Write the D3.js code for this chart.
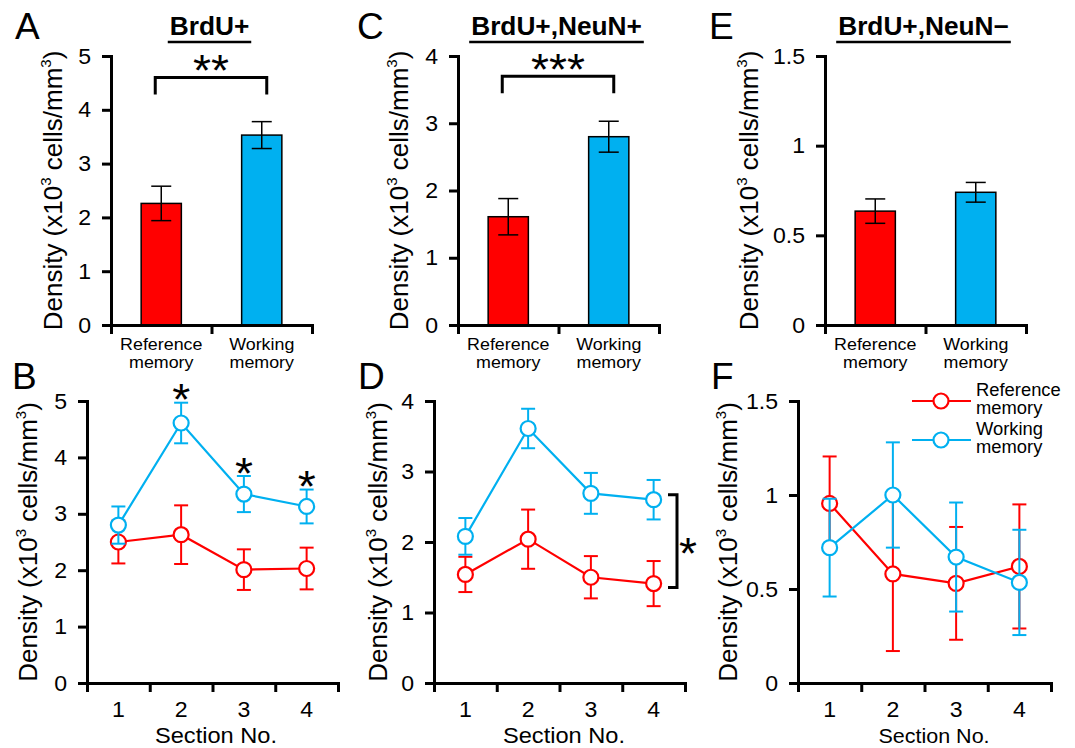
<!DOCTYPE html>
<html>
<head>
<meta charset="utf-8">
<script src="https://cdn.jsdelivr.net/npm/d3@7"></script>
<style>
body{margin:0;background:#fff;}
svg text{font-family:Arial,"Liberation Sans",Helvetica,sans-serif;fill:#000;}
</style>
</head>
<body>
<div id="chart"></div>
<script>
// ---- data ----
const groups = ["Reference memory", "Working memory"];
const sections = [1, 2, 3, 4];

// A: BrdU+
const brduMean = [2.26, 3.53];
const brduSem = [0.32, 0.25];
// C: BrdU+,NeuN+
const neunPosMean = [1.61, 2.80];
const neunPosSem = [0.27, 0.23];
// E: BrdU+,NeuN-
const neunNegMean = [0.635, 0.74];
const neunNegSem = [0.068, 0.055];

// B: BrdU+ by section
const refB = [2.50, 2.63, 2.01, 2.03];
const refBSem = [0.38, 0.52, 0.36, 0.37];
const workB = [2.80, 4.61, 3.35, 3.13];
const workBSem = [0.33, 0.36, 0.32, 0.30];
// D: BrdU+,NeuN+ by section
const refD = [1.54, 2.04, 1.50, 1.41];
const refDSem = [0.25, 0.42, 0.30, 0.32];
const workD = [2.08, 3.61, 2.69, 2.60];
const workDSem = [0.26, 0.28, 0.29, 0.28];
// F: BrdU+,NeuN- by section
const refF = [0.955, 0.58, 0.53, 0.62];
const refFSem = [0.25, 0.41, 0.30, 0.33];
const workF = [0.72, 1.00, 0.67, 0.535];
const workFSem = [0.26, 0.28, 0.29, 0.28];

const ticks5 = [0, 1, 2, 3, 4, 5];
const ticks4 = [0, 1, 2, 3, 4];
const ticks15 = [0, 0.5, 1, 1.5];

const RED = "#ff0000", BLUE = "#00b0f0";
const SX = 1.05;
const STAR = 44;

const svg = d3.select("#chart").append("svg")
    .attr("width", 1075)
    .attr("height", 748);

// text helper, slightly wide like the original
function label(g, x, y, str, size, anchor, weight) {
    return g.append("g")
        .attr("transform", "translate(" + x + "," + y + ") scale(" + SX + ",1)")
        .append("text")
        .attr("font-size", size)
        .attr("text-anchor", anchor || "start")
        .attr("font-weight", weight || "normal")
        .text(str);
}

// two-line label in one text element
function label2(g, x, y, lines, size, anchor, gap) {
    const t = g.append("g")
        .attr("transform", "translate(" + x + "," + y + ") scale(" + SX + ",1)")
        .append("text")
        .attr("font-size", size)
        .attr("text-anchor", anchor || "start");
    lines.forEach((s, i) => t.append("tspan").attr("x", 0).attr("dy", i === 0 ? 0 : gap).text(s));
    return t;
}

// star centred on (x, yc)
function star(g, x, yc, str) {
    return label(g, x, yc + STAR * 0.56, str, STAR, "middle");
}

function yLabel(g, x, y) {
    const t = g.append("text")
        .attr("transform", "translate(" + x + "," + y + ") rotate(-90)")
        .attr("text-anchor", "middle")
        .attr("font-size", 26);
    t.append("tspan").text("Density (x10");
    t.append("tspan").attr("font-size", 15).attr("dy", -11).text("3");
    t.append("tspan").attr("dy", 11).text(" cells/mm");
    t.append("tspan").attr("font-size", 15).attr("dy", -11).text("3");
    t.append("tspan").attr("dy", 11).text(")");
}

function styleAxis(ax) {
    ax.select(".domain").attr("stroke-width", 3).attr("stroke-linecap", "square");
    ax.selectAll(".tick line").attr("stroke-width", 3);
    ax.selectAll("text").attr("font-size", 22).attr("fill", "#000")
        .attr("x", function () { return this.getAttribute("x") ? +this.getAttribute("x") / SX : null; })
        .attr("transform", "scale(" + SX + ",1)");
}

function drawYAxis(g, y, ticks, x0) {
    const ax = g.append("g")
        .attr("transform", "translate(" + x0 + ",0)")
        .call(d3.axisLeft(y).tickValues(ticks).tickFormat(d => d).tickSize(9).tickSizeOuter(0).tickPadding(11));
    styleAxis(ax);
}

// ---- bar panels ----
const barPanels = [
    {letter: "A", lx: 15, title: "BrdU+", mean: brduMean, sem: brduSem, ticks: ticks5,
        x0: 111, x1: 312, labX: 62, stars: "**", bracketAt: 4.6},
    {letter: "C", lx: 357, title: "BrdU+,NeuN+", mean: neunPosMean, sem: neunPosSem, ticks: ticks4,
        x0: 458, x1: 659, labX: 408, stars: "***", bracketAt: 3.7},
    {letter: "E", lx: 709, title: "BrdU+,NeuN\u2212", mean: neunNegMean, sem: neunNegSem, ticks: ticks15,
        x0: 825, x1: 1026, labX: 758, stars: null}
];

barPanels.forEach(function (p) {
    const g = svg.append("g");
    const yTop = 56, yBot = 325;
    const y = d3.scaleLinear().domain([0, d3.max(p.ticks)]).range([yBot, yTop]);
    const x = d3.scaleBand().domain(groups).range([p.x0, p.x1]).paddingInner(0.6).paddingOuter(0.3);
    const xb = d3.scaleLinear().domain([0, 2]).range([p.x0, p.x1]);

    g.append("text").attr("x", p.lx).attr("y", 39).attr("font-size", 37).text(p.letter);

    const cx = (p.x0 + p.x1) / 2;
    const tt = label(g, cx - 2, 35, p.title, 25, "middle", "bold");
    const tw = tt.node().getComputedTextLength() * SX;
    g.append("line").attr("x1", cx - 2 - tw / 2 - 2).attr("x2", cx - 2 + tw / 2 + 2)
        .attr("y1", 42).attr("y2", 42).attr("stroke", "#000").attr("stroke-width", 2.5);

    g.selectAll("rect.bar").data(groups).enter().append("rect")
        .attr("class", "bar")
        .attr("x", d => x(d))
        .attr("width", x.bandwidth())
        .attr("y", (d, i) => y(p.mean[i]))
        .attr("height", (d, i) => yBot - y(p.mean[i]))
        .attr("fill", (d, i) => i === 0 ? RED : BLUE)
        .attr("stroke", "#000")
        .attr("stroke-width", 1.5);

    groups.forEach(function (d, i) {
        const mx = x(d) + x.bandwidth() / 2;
        const hi = y(p.mean[i] + p.sem[i]), lo = y(p.mean[i] - p.sem[i]);
        g.append("line").attr("x1", mx).attr("x2", mx).attr("y1", hi).attr("y2", lo)
            .attr("stroke", "#000").attr("stroke-width", 1.5);
        [hi, lo].forEach(v => g.append("line").attr("x1", mx - 10).attr("x2", mx + 10)
            .attr("y1", v).attr("y2", v).attr("stroke", "#000").attr("stroke-width", 1.5));
    });

    // x axis: boundary ticks
    const xa = g.append("g").attr("transform", "translate(0," + yBot + ")")
        .call(d3.axisBottom(xb).tickValues([0, 1, 2]).tickFormat("").tickSize(9).tickSizeOuter(0));
    styleAxis(xa);
    drawYAxis(g, y, p.ticks, p.x0);

    groups.forEach(function (d) {
        const mx = x(d) + x.bandwidth() / 2;
        label2(g, mx, yBot + 25, d.split(" "), 17, "middle", 18);
    });

    yLabel(g, p.labX, (yTop + yBot) / 2);

    if (p.stars) {
        const bl = x(groups[0]) + x.bandwidth() / 2 - 6;
        const br = x(groups[1]) + x.bandwidth() / 2 + 5;
        const by = y(p.bracketAt);
        g.append("path")
            .attr("d", "M" + bl + "," + (by + 17) + "V" + by + "H" + br + "V" + (by + 17))
            .attr("fill", "none").attr("stroke", "#000").attr("stroke-width", 3);
        star(g, (bl + br) / 2, by - 16, p.stars);
    }
});

// ---- line panels ----
const linePanels = [
    {letter: "B", lx: 12, ticks: ticks5, ref: refB, refSem: refBSem, work: workB, workSem: workBSem,
        x0: 87, x1: 338, labX: 37, secX: 216, secSize: 22.5, stars: [1, 2, 3]},
    {letter: "D", lx: 358, ticks: ticks4, ref: refD, refSem: refDSem, work: workD, workSem: workDSem,
        x0: 434, x1: 685, labX: 387, secX: 564, secSize: 22.5, bracket: true},
    {letter: "F", lx: 711, ticks: ticks15, ref: refF, refSem: refFSem, work: workF, workSem: workFSem,
        x0: 798, x1: 1051, labX: 737, secX: 934, secSize: 20.5, legend: true}
];

linePanels.forEach(function (p) {
    const g = svg.append("g");
    const yTop = 401, yBot = 683;
    const y = d3.scaleLinear().domain([0, d3.max(p.ticks)]).range([yBot, yTop]);
    const x = d3.scaleBand().domain(sections).range([p.x0, p.x1]).padding(0);
    const xb = d3.scaleLinear().domain([0, 4]).range([p.x0, p.x1]);
    const cx = d => x(d) + x.bandwidth() / 2;

    g.append("text").attr("x", p.lx).attr("y", 389).attr("font-size", 37).text(p.letter);

    const series = [
        {vals: p.ref, sem: p.refSem, color: RED},
        {vals: p.work, sem: p.workSem, color: BLUE}
    ];

    series.forEach(function (s) {
        sections.forEach(function (d, i) {
            const hi = y(s.vals[i] + s.sem[i]), lo = y(s.vals[i] - s.sem[i]);
            g.append("line").attr("x1", cx(d)).attr("x2", cx(d)).attr("y1", hi).attr("y2", lo)
                .attr("stroke", s.color).attr("stroke-width", 2);
            [hi, lo].forEach(v => g.append("line").attr("x1", cx(d) - 7).attr("x2", cx(d) + 7)
                .attr("y1", v).attr("y2", v).attr("stroke", s.color).attr("stroke-width", 2));
        });
        g.append("path")
            .datum(s.vals)
            .attr("d", d3.line().x((v, i) => cx(sections[i])).y(v => y(v)))
            .attr("fill", "none").attr("stroke", s.color).attr("stroke-width", 2.2);
        g.selectAll(null).data(s.vals).enter().append("circle")
            .attr("cx", (v, i) => cx(sections[i]))
            .attr("cy", v => y(v))
            .attr("r", 7.5)
            .attr("fill", "#fff")
            .attr("stroke", s.color)
            .attr("stroke-width", 2.2);
    });

    const xt = g.append("g").attr("transform", "translate(0," + yBot + ")")
        .call(d3.axisBottom(xb).tickValues([0, 1, 2, 3, 4]).tickFormat("").tickSize(9).tickSizeOuter(0));
    styleAxis(xt);
    const xl = g.append("g").attr("transform", "translate(0," + yBot + ")")
        .call(d3.axisBottom(x).tickSize(0).tickPadding(18));
    styleAxis(xl);
    xl.select(".domain").remove();
    drawYAxis(g, y, p.ticks, p.x0);

    label(g, p.secX, 743, "Section No.", p.secSize, "middle");
    yLabel(g, p.labX, (yTop + yBot) / 2);

    if (p.stars) {
        p.stars.forEach(function (i) {
            star(g, cx(sections[i]), y(p.work[i] + p.workSem[i]) - 12, "*");
        });
    }
    if (p.bracket) {
        const bx = p.x1 - 8;
        const t = y(p.work[3]) - 5, b = y(p.ref[3]) + 4;
        g.append("path").attr("d", "M" + (bx - 9) + "," + t + "H" + bx + "V" + b + "H" + (bx - 9))
            .attr("fill", "none").attr("stroke", "#000").attr("stroke-width", 3);
        star(g, bx + 11, (t + b) / 2 + 3, "*");
    }
    if (p.legend) {
        [RED, BLUE].forEach(function (c, i) {
            const ly = 401 + i * 39;
            g.append("line").attr("x1", 912).attr("x2", 971).attr("y1", ly).attr("y2", ly)
                .attr("stroke", c).attr("stroke-width", 2.2);
            g.append("circle").attr("cx", 941).attr("cy", ly).attr("r", 7.5)
                .attr("fill", "#fff").attr("stroke", c).attr("stroke-width", 2.2);
            label2(g, 976, ly - 5, groups[i].split(" "), 17.5, "start", 18);
        });
    }
});
</script>
</body>
</html>
